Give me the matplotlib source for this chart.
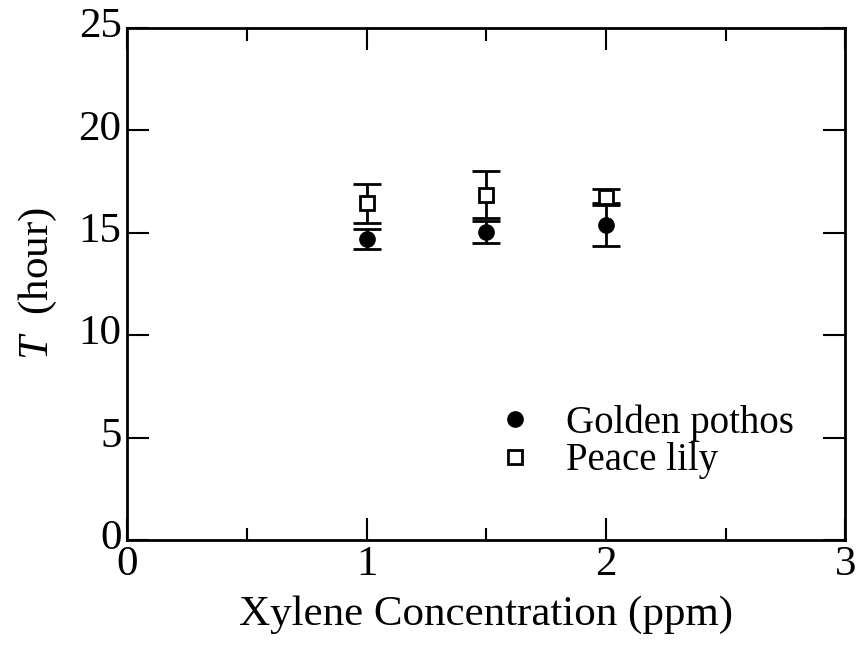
import matplotlib
matplotlib.use("Agg")
import matplotlib.pyplot as plt
import matplotlib.transforms as mtransforms
from matplotlib.ticker import MultipleLocator

plt.rcParams['font.family'] = ['Liberation Serif', 'DejaVu Serif']
plt.rcParams['mathtext.fontset'] = 'custom'
plt.rcParams['mathtext.rm'] = 'Liberation Serif'
plt.rcParams['mathtext.it'] = 'Liberation Serif:italic'

conc = [1.0, 1.5, 2.0]
golden_pothos = [14.7, 15.05, 15.4]
golden_pothos_err = [0.5, 0.53, 1.05]
peace_lily = [16.45, 16.85, 16.75]
peace_lily_err = [0.95, 1.15, 0.38]

fig = plt.figure(figsize=(8.59, 6.48), dpi=100)
ax = fig.add_axes([0.148, 0.1667, 0.836, 0.790])

ax.errorbar(conc, golden_pothos, yerr=golden_pothos_err, fmt='o', color='black',
            markersize=11, capsize=10, capthick=2, elinewidth=2, label='Golden pothos')
ax.errorbar(conc, peace_lily, yerr=peace_lily_err, fmt='s', color='black',
            markerfacecolor='white', markeredgewidth=2, markersize=9.5,
            capsize=10, capthick=2, elinewidth=2, label='Peace lily')

ax.set_xlim(0, 3)
ax.set_ylim(0, 25)
ax.xaxis.set_major_locator(MultipleLocator(1))
ax.xaxis.set_minor_locator(MultipleLocator(0.5))
ax.yaxis.set_major_locator(MultipleLocator(5))
ax.tick_params(which='both', direction='in', top=True, right=True, labelsize=31, width=1.5)
ax.tick_params(which='major', length=16, pad=4)
ax.tick_params(which='minor', length=9)
for s in ax.spines.values():
    s.set_linewidth(2)

offset = mtransforms.ScaledTranslation(0, 4 / 72, fig.dpi_scale_trans)
for lbl in ax.get_yticklabels():
    lbl.set_transform(lbl.get_transform() + offset)

ax.set_xlabel('Xylene Concentration (ppm)', fontsize=31, labelpad=8)
ax.set_ylabel(r'$T$  (hour)', fontsize=31, labelpad=14)

h, l = ax.get_legend_handles_labels()
h = [hh[0] for hh in h]
ax.legend(h, l, loc='center left', bbox_to_anchor=(0.513, 0.192), frameon=False,
          fontsize=28, handletextpad=0.8, labelspacing=0.02, handlelength=1.0,
          borderpad=0, borderaxespad=0)

fig.savefig('out.png', dpi=100)
